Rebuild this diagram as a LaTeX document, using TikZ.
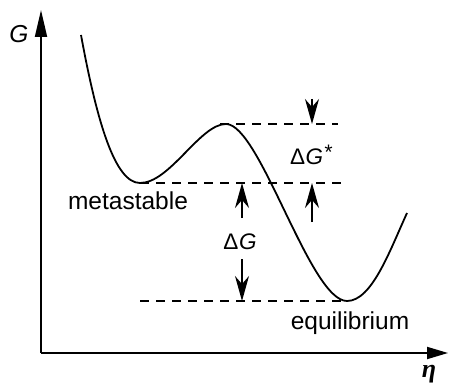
\documentclass[tikz,border=0pt]{standalone}
\usepackage{fontspec}
\setmainfont{Liberation Sans}
\newfontfamily\serifgreek{Liberation Serif}
\usetikzlibrary{arrows.meta}
\begin{document}
\begin{tikzpicture}[x=1pt,y=-1pt,
  curve/.style={line width=1.8pt},
  level/.style={line width=1.2pt,dash pattern=on 9pt off 7pt},
  marker/.style={line width=1.5pt,-{Stealth[length=25pt,width=14pt,inset=8pt]}},
  lbl/.style={inner sep=0pt,font=\fontsize{24.5}{26}\selectfont},
  dlbl/.style={inner sep=0pt,font=\fontsize{22.5}{24}\selectfont}]
\useasboundingbox (0,0) rectangle (449,385);
% axes
\coordinate (O) at (41,353);
\coordinate (Gtip) at (41,10);
\coordinate (Etip) at (448,353);
\draw[line width=1.8pt,-{Triangle[length=27pt,width=12pt]}] (O) -- (Gtip);
\draw[line width=1.8pt,-{Triangle[length=21pt,width=12pt]}] (O) -- (Etip);
\node[lbl] (G) at (19,34) {\itshape G};
\node[inner sep=0pt] (eta) at (429,374) {\serifgreek\bfseries\itshape\fontsize{26}{28}\selectfont η};
% curve
\coordinate (S) at (81,35);
\coordinate (M) at (140,183);
\coordinate (T) at (226,124);
\coordinate (E) at (347,301);
\coordinate (R) at (407,213);
\draw[curve] (S) .. controls (97,122) and (115,183) .. (M)
  .. controls (170,183) and (200,124) .. (T)
  .. controls (260,124) and (310,301) .. (E)
  .. controls (372,301) and (390,250) .. (R);
% levels
\coordinate (Tl) at (220,124);
\coordinate (Tr) at (338,124);
\coordinate (Ml) at (140,183);
\coordinate (Mr) at (347,183);
\coordinate (El) at (140,301);
\coordinate (Er) at (347,301);
\draw[level] (Tl) -- (Tr);
\draw[level] (Ml) -- (Mr);
\draw[level] (El) -- (Er);
% arrows
\coordinate (a1s) at (312,99);
\coordinate (a1e) at (312,124);
\coordinate (a2s) at (312,222);
\coordinate (a2e) at (312,183);
\coordinate (b1s) at (242,218);
\coordinate (b1e) at (242,183);
\coordinate (b2s) at (242,259);
\coordinate (b2e) at (242,301);
\draw[marker] (a1s) -- (a1e);
\draw[marker] (a2s) -- (a2e);
\draw[marker] (b1s) -- (b1e);
\draw[marker] (b2s) -- (b2e);
% labels
\node[dlbl] (dGs) at (311,155) {Δ\kern0.5pt\itshape G\kern0.5pt\raisebox{0.25em}{\fontsize{21}{22}\selectfont *}};
\node[dlbl] (dG) at (240,242) {Δ\kern0.5pt\itshape G};
\node[lbl] (meta) at (128,201) {metastable};
\node[lbl] (equi) at (350,323) {equilibrium};
\end{tikzpicture}
\end{document}
